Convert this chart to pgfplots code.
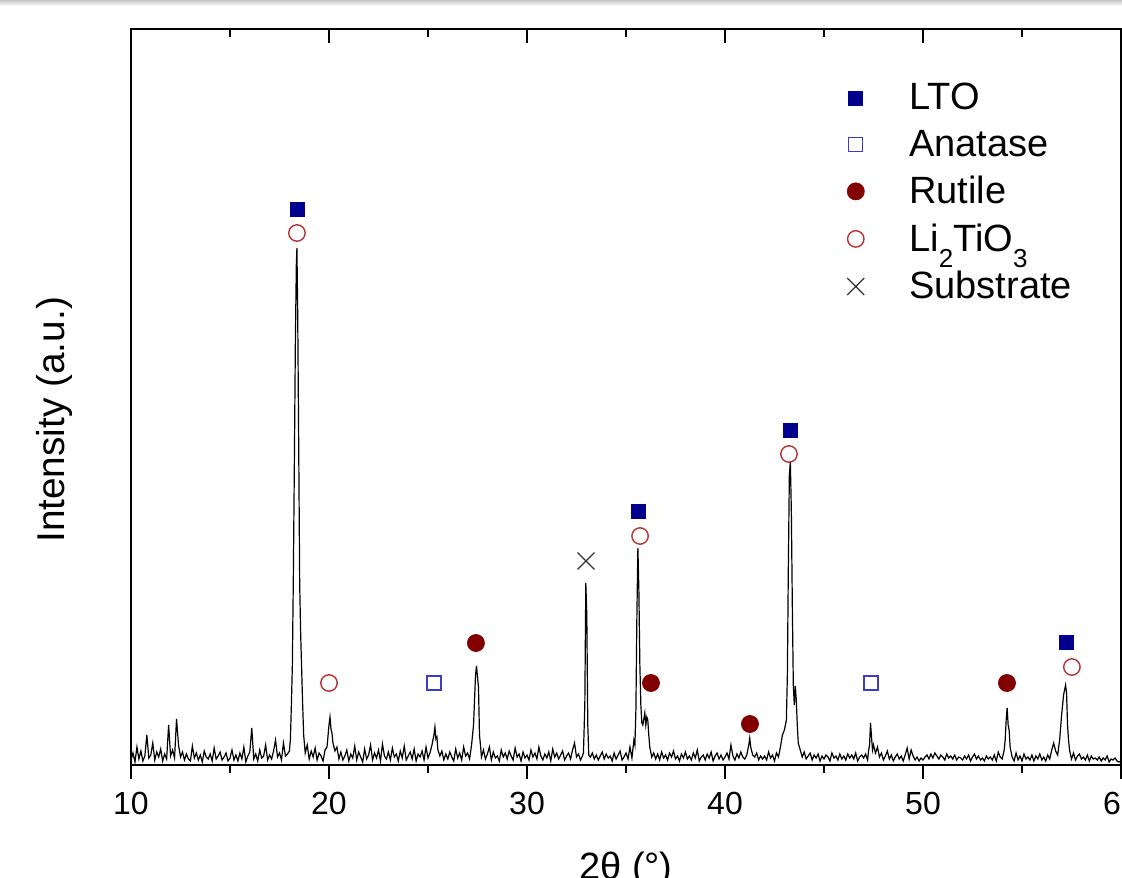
\documentclass[border=0pt]{standalone}
\usepackage{pgfplots}
\pgfplotsset{compat=1.18}
\usepackage{fontspec}
\setmainfont{Liberation Sans}
\definecolor{lto}{RGB}{0,0,140}
\definecolor{ana}{RGB}{60,60,200}
\definecolor{rut}{RGB}{130,0,0}
\definecolor{lit}{RGB}{185,50,50}
\definecolor{sub}{RGB}{50,50,50}
\newcommand{\lowsub}[1]{\raisebox{-0.42em}{\fontsize{13}{13}\selectfont #1}}
\begin{document}
\begin{tikzpicture}[x=1pt,y=1pt]
\pgfplotsset{
  common/.style={
    at={(0,0)}, anchor=south west,
    scale only axis, width=495pt, height=368pt,
    xmin=10, xmax=60, ymin=0, ymax=736,
    axis line style={line width=1.2pt},
    xtick={10,20,...,60}, minor xtick={15,25,...,55},
    ytick=\empty,
    major tick length=7pt, minor tick length=4pt,
    every tick/.style={line width=1.2pt, black},
  }
}
\begin{axis}[common,
  xtick pos=bottom, tick align=outside,
  tick label style={font=\fontsize{16}{18}\selectfont},
  xticklabel style={yshift=-3pt},
  /pgf/number format/assume math mode=true,
  xlabel={2θ (°)},
  xlabel style={font=\fontsize{19}{21}\selectfont, at={(axis description cs:0.5,0)}, anchor=base, yshift=-57pt},
  ylabel={Intensity (a.u.)},
  ylabel style={font=\fontsize{19.4}{21}\selectfont, at={(axis description cs:-0.077,0.469)}, anchor=center},
  legend style={at={(axis description cs:0.723,0.932)}, anchor=north west, draw=none, fill=none,
    font=\fontsize{19}{21}\selectfont, row sep=4.5pt, /tikz/column sep=20.5pt, inner sep=0pt,
    /tikz/row 5/.style={yshift=-5pt}},
  legend cell align=left,
]
\addplot[black, line width=0.6pt, forget plot] coordinates {
(10.0,5)(10.1,12)(10.2,3)(10.3,18)(10.4,6)(10.5,14)(10.6,4)(10.7,9)(10.8,30)(10.9,7)
(11.0,10)(11.1,22)(11.2,5)(11.3,13)(11.4,8)(11.5,16)(11.6,4)(11.7,11)(11.8,6)(11.9,40)
(12.0,9)(12.1,15)(12.2,7)(12.3,46)(12.4,20)(12.5,8)(12.6,13)(12.7,5)(12.8,11)(12.9,6)
(13.0,4)(13.1,19)(13.2,7)(13.3,12)(13.4,5)(13.5,10)(13.6,3)(13.7,14)(13.8,8)(13.9,6)
(14.0,11)(14.1,4)(14.2,17)(14.3,6)(14.4,9)(14.5,13)(14.6,5)(14.7,8)(14.8,12)(14.9,4)
(15.0,7)(15.1,15)(15.2,5)(15.3,10)(15.4,4)(15.5,12)(15.6,6)(15.7,18)(15.8,3)(15.9,9)
(16.0,13)(16.1,37)(16.2,6)(16.3,11)(16.4,4)(16.5,15)(16.6,7)(16.7,9)(16.8,20)(16.9,5)
(17.0,10)(17.1,6)(17.2,14)(17.3,25)(17.4,8)(17.5,12)(17.6,5)(17.7,22)(17.8,9)(17.9,11)
(18.0,14)(18.05,25)(18.1,60)(18.15,100)(18.2,190)(18.25,300)(18.3,420)(18.35,500)(18.38,517)(18.42,450)(18.47,320)(18.52,180)(18.57,130)(18.62,95)(18.67,60)(18.72,30)(18.8,12)(18.9,20)
(19.0,6)(19.1,14)(19.2,8)(19.3,17)(19.4,5)(19.5,12)(19.6,9)(19.7,4)(19.8,15)(19.9,18)
(20.0,40)(20.05,48)(20.1,36)(20.15,32)(20.2,22)(20.3,14)(20.4,18)(20.5,6)(20.6,13)(20.7,5)(20.8,9)(20.9,15)
(21.0,4)(21.1,11)(21.2,7)(21.3,19)(21.4,5)(21.5,13)(21.6,8)(21.7,3)(21.8,16)(21.9,6)
(22.0,10)(22.1,20)(22.2,5)(22.3,12)(22.4,7)(22.5,15)(22.6,4)(22.7,21)(22.8,9)(22.9,6)
(23.0,13)(23.1,5)(23.2,17)(23.3,8)(23.4,11)(23.5,4)(23.6,14)(23.7,7)(23.8,19)(23.9,5)
(24.0,9)(24.1,13)(24.2,6)(24.3,16)(24.4,4)(24.5,11)(24.6,8)(24.7,14)(24.8,5)(24.9,18)
(25.0,7)(25.1,12)(25.2,20)(25.3,30)(25.35,38)(25.4,26)(25.45,28)(25.5,15)(25.6,9)(25.7,14)(25.8,5)(25.9,11)
(26.0,6)(26.1,13)(26.2,8)(26.3,4)(26.4,16)(26.5,7)(26.6,12)(26.7,5)(26.8,18)(26.9,9)
(27.0,12)(27.1,6)(27.2,20)(27.3,40)(27.35,65)(27.4,90)(27.45,99)(27.5,88)(27.55,78)(27.6,30)(27.65,20)(27.7,8)(27.8,15)(27.9,6)
(28.0,11)(28.1,18)(28.2,5)(28.3,13)(28.4,7)(28.5,9)(28.6,4)(28.7,15)(28.8,8)(28.9,12)
(29.0,6)(29.1,14)(29.2,9)(29.3,5)(29.4,17)(29.5,8)(29.6,11)(29.7,4)(29.8,13)(29.9,7)
(30.0,10)(30.1,5)(30.2,15)(30.3,8)(30.4,12)(30.5,6)(30.6,18)(30.7,9)(30.8,5)(30.9,11)
(31.0,7)(31.1,13)(31.2,4)(31.3,16)(31.4,8)(31.5,12)(31.6,6)(31.7,10)(31.8,14)(31.9,5)
(32.0,9)(32.1,12)(32.2,6)(32.3,15)(32.4,22)(32.5,8)(32.6,11)(32.7,5)(32.8,9)(32.85,12)(32.92,60)(32.97,182)(33.02,150)(33.07,40)(33.12,10)
(33.2,8)(33.3,12)(33.4,6)(33.5,10)(33.6,5)(33.7,9)(33.8,13)(33.9,6)
(34.0,11)(34.1,7)(34.2,9)(34.3,4)(34.4,12)(34.5,6)(34.6,10)(34.7,14)(34.8,5)(34.9,8)
(35.0,12)(35.1,6)(35.2,18)(35.3,7)(35.4,25)(35.45,20)(35.5,55)(35.55,150)(35.6,217)(35.65,175)(35.7,100)(35.75,60)(35.8,42)(35.85,40)(35.95,52)(36.0,40)(36.05,48)(36.1,45)(36.15,30)(36.2,18)(36.3,8)(36.4,12)(36.5,6)(36.6,11)(36.7,5)(36.8,13)(36.9,7)
(37.0,10)(37.1,5)(37.2,12)(37.3,8)(37.4,14)(37.5,6)(37.6,9)(37.7,4)(37.8,11)(37.9,7)
(38.0,13)(38.1,6)(38.2,9)(38.3,5)(38.4,12)(38.5,7)(38.6,15)(38.7,4)(38.8,8)(38.9,10)
(39.0,5)(39.1,11)(39.2,7)(39.3,13)(39.4,4)(39.5,9)(39.6,12)(39.7,6)(39.8,10)(39.9,5)
(40.0,8)(40.1,12)(40.2,6)(40.3,20)(40.4,9)(40.5,5)(40.6,11)(40.7,7)(40.8,13)(40.9,8)
(41.0,6)(41.1,10)(41.2,20)(41.25,27)(41.3,18)(41.4,10)(41.5,8)(41.6,12)(41.7,5)(41.8,9)(41.9,6)
(42.0,9)(42.1,5)(42.2,13)(42.3,7)(42.4,10)(42.5,4)(42.6,12)(42.7,8)(42.8,18)(42.9,30)(43.0,35)(43.1,45)(43.15,90)(43.2,200)(43.25,290)(43.3,303)(43.35,255)(43.4,160)(43.45,80)(43.5,60)(43.55,79)(43.6,65)(43.65,40)(43.7,22)(43.8,15)(43.9,8)
(44.0,13)(44.1,6)(44.2,9)(44.3,12)(44.4,5)(44.5,10)(44.6,7)(44.7,11)(44.8,4)(44.9,9)
(45.0,6)(45.1,10)(45.2,8)(45.3,4)(45.4,12)(45.5,7)(45.6,9)(45.7,5)(45.8,11)(45.9,6)
(46.0,9)(46.1,5)(46.2,11)(46.3,7)(46.4,10)(46.5,6)(46.6,12)(46.7,4)(46.8,8)(46.9,10)
(47.0,7)(47.1,11)(47.2,5)(47.25,14)(47.3,20)(47.35,42)(47.4,28)(47.45,15)(47.5,20)(47.6,12)(47.7,18)(47.8,8)(47.9,12)
(48.0,5)(48.1,9)(48.2,14)(48.3,6)(48.4,10)(48.5,4)(48.6,8)(48.7,11)(48.8,6)(48.9,9)
(49.0,4)(49.1,10)(49.2,17)(49.3,6)(49.4,15)(49.5,9)(49.6,5)(49.7,8)(49.8,4)(49.9,7)
(50.0,5)(50.1,8)(50.2,10)(50.3,6)(50.4,11)(50.5,7)(50.6,12)(50.7,9)(50.8,6)(50.9,10)
(51.0,8)(51.1,5)(51.2,11)(51.3,7)(51.4,9)(51.5,6)(51.6,10)(51.7,5)(51.8,8)(51.9,7)
(52.0,5)(52.1,9)(52.2,6)(52.3,10)(52.4,4)(52.5,8)(52.6,11)(52.7,6)(52.8,9)(52.9,5)
(53.0,7)(53.1,4)(53.2,9)(53.3,6)(53.4,8)(53.5,5)(53.6,10)(53.7,4)(53.8,13)(53.9,8)
(54.0,6)(54.1,15)(54.15,25)(54.2,45)(54.25,57)(54.3,40)(54.35,35)(54.4,18)(54.5,8)(54.6,4)(54.7,12)(54.8,5)(54.9,9)
(55.0,4)(55.1,11)(55.2,6)(55.3,8)(55.4,5)(55.5,10)(55.6,4)(55.7,9)(55.8,6)(55.9,11)
(56.0,5)(56.1,8)(56.2,4)(56.3,10)(56.4,6)(56.5,15)(56.6,22)(56.7,14)(56.8,10)(56.9,25)(57.0,50)(57.1,70)(57.2,80)(57.25,72)(57.3,40)(57.35,25)(57.4,15)(57.5,6)(57.6,12)(57.7,5)(57.8,9)(57.9,11)
(58.0,6)(58.1,8)(58.2,5)(58.3,10)(58.4,4)(58.5,9)(58.6,6)(58.7,7)(58.8,5)(58.9,8)
(59.0,4)(59.1,7)(59.2,5)(59.3,9)(59.4,3)(59.5,6)(59.6,5)(59.7,7)(59.8,4)(59.9,3)(60.0,4)
};
\addplot[only marks, mark=square*, mark size=3.5pt, color=lto, mark options={fill=lto, draw=lto, line width=0.4pt}]
  coordinates {(18.38,556)(35.61,254)(43.28,335)(57.22,123)};
\addlegendentry{LTO}
\addplot[only marks, mark=square, mark size=3.5pt, color=ana, mark options={line width=0.7pt}]
  coordinates {(25.30,82)(47.37,82)};
\addlegendentry{Anatase}
\addplot[only marks, mark=*, mark size=4.3pt, color=rut, mark options={fill=rut, draw=rut, line width=0.3pt}]
  coordinates {(27.42,122)(36.26,82)(41.26,41)(54.24,82)};
\addlegendentry{Rutile}
\addplot[only marks, mark=o, mark size=4.1pt, color=lit, mark options={line width=0.7pt}]
  coordinates {(18.38,532)(20.0,82)(35.71,229)(43.23,311)(57.52,98)};
\addlegendentry{Li\lowsub{2}TiO\lowsub{3}}
\addplot[only marks, mark=x, mark size=6pt, color=sub, mark options={line width=0.6pt}]
  coordinates {(32.98,204)};
\addlegendentry{Substrate}
\end{axis}
\begin{axis}[common, xtick pos=top, tick align=inside, xticklabels={}]
\end{axis}
\shade[top color=gray!45, bottom color=white] (-65.5,379.5) rectangle (495.5,382.5);
\pgfresetboundingbox
\path[use as bounding box] (-65.5,-56) rectangle (495.5,382.5);
\end{tikzpicture}
\end{document}
